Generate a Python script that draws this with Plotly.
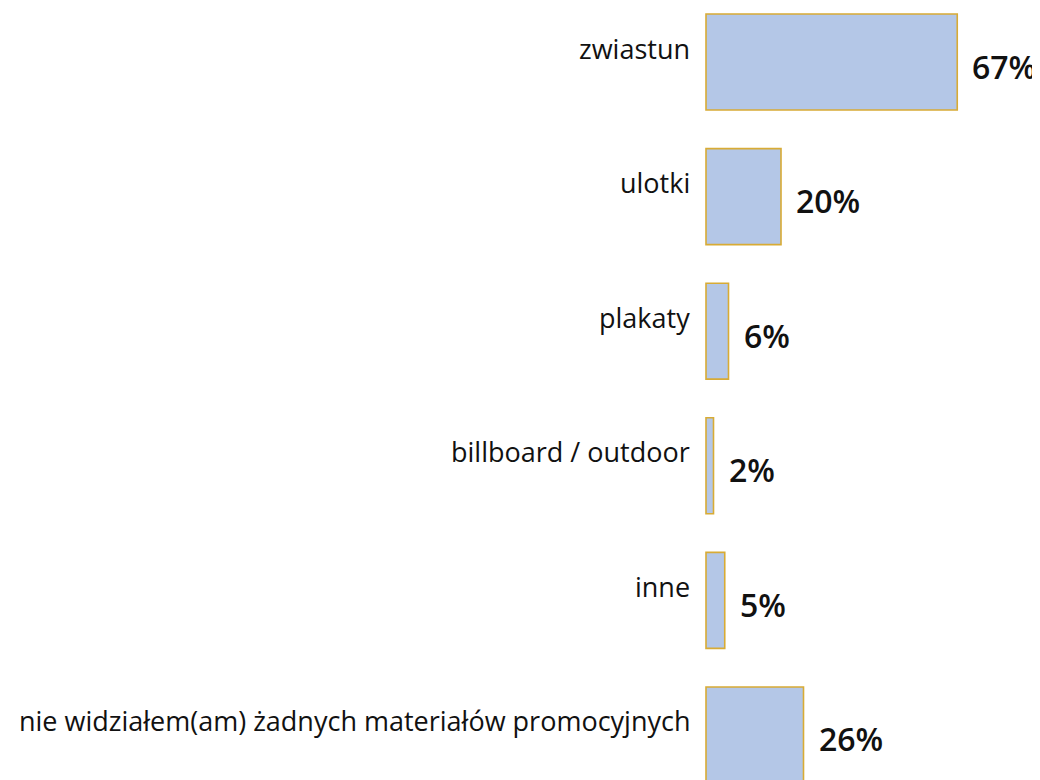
import plotly.graph_objects as go

categories = ["zwiastun", "ulotki", "plakaty", "billboard / outdoor", "inne",
              "nie widziałem(am) żadnych materiałów promocyjnych"]
values = [67, 20, 6, 2, 5, 26]
value_labels = ["67%", "20%", "6%", "2%", "5%", "26%"]

ypos = list(range(len(categories)))
FONT = "Open Sans"

fig = go.Figure(go.Bar(
    x=values, y=ypos, orientation="h", width=0.713,
    marker=dict(color="#b4c7e7", line=dict(color="#d8ab35", width=1.6)),
    hoverinfo="skip",
))

annotations = []
for i, (c, v, t) in enumerate(zip(categories, values, value_labels)):
    annotations.append(dict(x=0, y=i, xref="x", yref="y", text=c, showarrow=False,
                            xanchor="right", yanchor="middle", xshift=-14, yshift=14,
                            font=dict(family=FONT, size=27, color="#111111", weight=500)))
    annotations.append(dict(x=v, y=i, xref="x", yref="y", text=t, showarrow=False,
                            xanchor="left", yanchor="middle", xshift=13, yshift=-4,
                            font=dict(family=FONT, size=32, color="#111111", weight=600)))

fig.update_layout(
    width=1040, height=780,
    margin=dict(l=0, r=0, t=0, b=0),
    paper_bgcolor="white", plot_bgcolor="white",
    showlegend=False,
    xaxis=dict(range=[-186.13, 91.2], visible=False, fixedrange=True),
    yaxis=dict(range=[5.394, -0.4012], visible=False, fixedrange=True),
    annotations=annotations,
)
fig.write_html("out.html")
